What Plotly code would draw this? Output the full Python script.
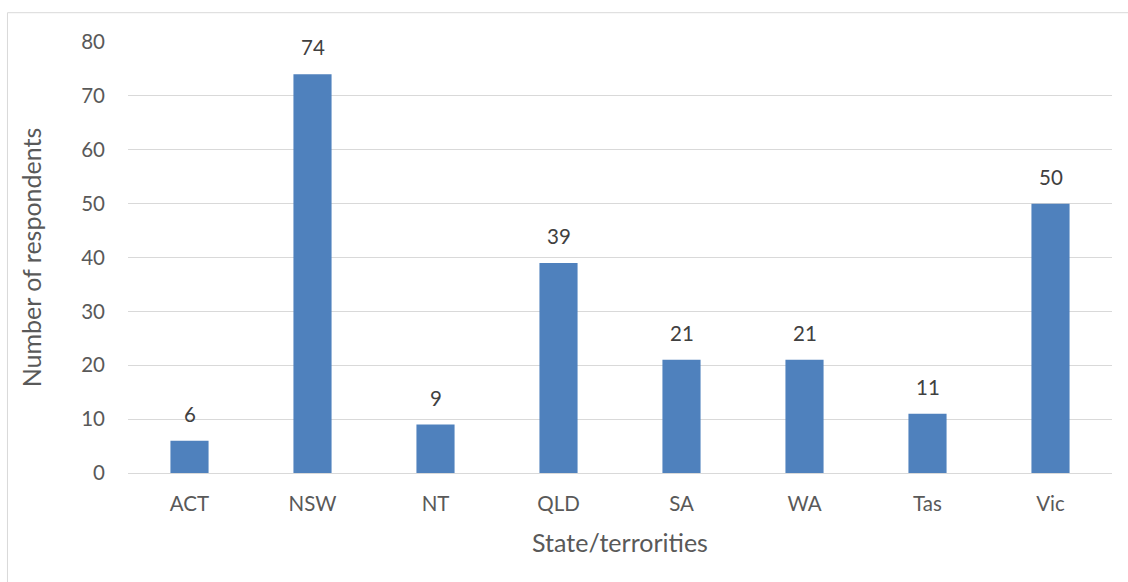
import plotly.graph_objects as go

states = ["ACT", "NSW", "NT", "QLD", "SA", "WA", "Tas", "Vic"]
respondents = [6, 74, 9, 39, 21, 21, 11, 50]
y_ticks = [0, 10, 20, 30, 40, 50, 60, 70, 80]

FONT = "Lato, 'Liberation Sans', sans-serif"
GRID = "#d9d9d9"
TEXT = "#595959"

fig = go.Figure(
    go.Bar(
        x=states,
        y=respondents,
        marker=dict(color="#4f81bd", line=dict(width=0)),
        cliponaxis=False,
        width=0.31,
    )
)

# value labels above each bar
for s, v in zip(states, respondents):
    fig.add_annotation(
        x=s, y=v, text=str(v), showarrow=False,
        yanchor="bottom", yshift=13,
        font=dict(family=FONT, size=20.5, color="#404040"),
    )

fig.update_layout(
    width=1128,
    height=582,
    margin=dict(l=128, r=16, t=42, b=109),
    plot_bgcolor="white",
    paper_bgcolor="white",
    showlegend=False,
    font=dict(family=FONT, color=TEXT),
    xaxis=dict(
        title=dict(text="State/terrorities", font=dict(size=25, color=TEXT), standoff=20),
        tickfont=dict(size=20.5, color=TEXT),
        showgrid=False,
        showline=False,
        ticks="",
        ticklabelstandoff=16,
    ),
    yaxis=dict(
        title=dict(text="Number of respondents", font=dict(size=25, color=TEXT), standoff=32),
        range=[0, 80],
        tickvals=y_ticks,
        tickfont=dict(size=20.5, color=TEXT),
        showgrid=True,
        gridcolor=GRID,
        gridwidth=1,
        zeroline=True,
        zerolinecolor=GRID,
        zerolinewidth=1,
        ticks="",
        ticklabelstandoff=22,
    ),
    shapes=[
        dict(
            type="rect",
            xref="paper",
            yref="paper",
            x0=-0.1225,
            x1=1.05,
            y0=-0.5,
            y1=1.068,
            line=dict(color=GRID, width=1),
            fillcolor="rgba(0,0,0,0)",
            layer="below",
        )
    ],
)

fig.write_html("out.html")
